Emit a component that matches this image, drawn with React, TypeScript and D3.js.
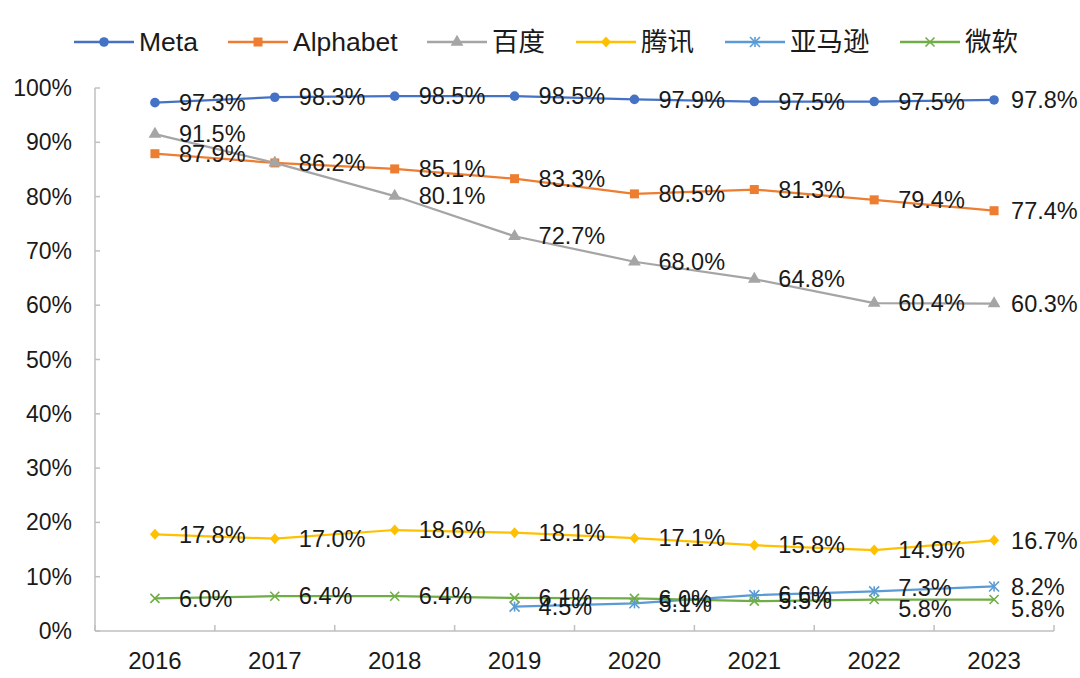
import React from 'react';
import * as d3 from 'd3';

const years = ['2016', '2017', '2018', '2019', '2020', '2021', '2022', '2023'];
const yTicks = [0, 10, 20, 30, 40, 50, 60, 70, 80, 90, 100];

const meta = [97.3, 98.3, 98.5, 98.5, 97.9, 97.5, 97.5, 97.8];
const alphabet = [87.9, 86.2, 85.1, 83.3, 80.5, 81.3, 79.4, 77.4];
const baidu = [91.5, 86.2, 80.1, 72.7, 68.0, 64.8, 60.4, 60.3];
const tencent = [17.8, 17.0, 18.6, 18.1, 17.1, 15.8, 14.9, 16.7];
const amazon: (number | null)[] = [null, null, null, 4.5, 5.1, 6.6, 7.3, 8.2];
const microsoft = [6.0, 6.4, 6.4, 6.1, 6.0, 5.5, 5.8, 5.8];

type Series = { name: string; values: (number | null)[]; color: string; marker: string };

const series: Series[] = [
  { name: 'Meta', values: meta, color: '#4472C4', marker: 'circle' },
  { name: 'Alphabet', values: alphabet, color: '#ED7D31', marker: 'square' },
  { name: '百度', values: baidu, color: '#A5A5A5', marker: 'triangle' },
  { name: '腾讯', values: tencent, color: '#FFC000', marker: 'diamond' },
  { name: '亚马逊', values: amazon, color: '#5B9BD5', marker: 'asterisk' },
  { name: '微软', values: microsoft, color: '#70AD47', marker: 'times' },
];

const W = 1080;
const H = 678;
const left = 95;
const right = 1054;
const top = 88;
const bottom = 631;
const font = 'Arial, "Liberation Sans", "Noto Sans CJK SC", sans-serif';
const axisColor = '#BFBFBF';
const textColor = '#1a1a1a';

const x = d3.scaleBand<string>().domain(years).range([left, right]);
const y = d3.scaleLinear().domain([0, 100]).range([bottom, top]);
const cx = (yr: string) => (x(yr) as number) + x.bandwidth() / 2;

// small manual nudges of some data labels, as in the original (series name -> index -> dy)
const labelNudge: Record<string, Record<number, number>> = {
  亚马逊: { 6: -4 },
  微软: { 6: 9, 7: 9 },
};

const Marker: React.FC<{ type: string; color: string; px: number; py: number }> = ({ type, color, px, py }) => {
  if (type === 'circle') return <circle cx={px} cy={py} r={4.8} fill={color} />;
  if (type === 'square') return <rect x={px - 4.5} y={py - 4.5} width={9} height={9} fill={color} />;
  if (type === 'triangle') {
    const p = d3.symbol().type(d3.symbolTriangle).size(70)();
    return <path d={p as string} transform={`translate(${px},${py})`} fill={color} />;
  }
  if (type === 'diamond') {
    return <path d={`M${px},${py - 5.5}L${px + 5},${py}L${px},${py + 5.5}L${px - 5},${py}Z`} fill={color} />;
  }
  if (type === 'asterisk') {
    const r = 5;
    return (
      <g stroke={color} strokeWidth={1.6}>
        <line x1={px} y1={py - r} x2={px} y2={py + r} />
        <line x1={px - r} y1={py - r} x2={px + r} y2={py + r} />
        <line x1={px - r} y1={py + r} x2={px + r} y2={py - r} />
      </g>
    );
  }
  const r = 4.5;
  return (
    <g stroke={color} strokeWidth={1.6}>
      <line x1={px - r} y1={py - r} x2={px + r} y2={py + r} />
      <line x1={px - r} y1={py + r} x2={px + r} y2={py - r} />
    </g>
  );
};

const legendX = [74, 228, 427, 576, 725, 900];

const App: React.FC = () => {
  const line = d3
    .line<number | null>()
    .defined((d) => d !== null)
    .x((_, i) => cx(years[i]))
    .y((d) => y(d as number));

  return (
    <svg width={W} height={H} style={{ position: 'absolute', left: 0, top: 0, background: '#fff' }} fontFamily={font}>
      {/* legend */}
      {series.map((s, i) => (
        <g key={s.name}>
          <line x1={legendX[i]} x2={legendX[i] + 60} y1={42} y2={42} stroke={s.color} strokeWidth={2.5} />
          <Marker type={s.marker} color={s.color} px={legendX[i] + 30} py={42} />
          <text x={legendX[i] + 65} y={42} dy="0.35em" fontSize={26.5} fill={textColor}>
            {s.name}
          </text>
        </g>
      ))}

      {/* axes */}
      <line x1={left} x2={left} y1={top} y2={bottom} stroke={axisColor} strokeWidth={1.5} />
      <line x1={left} x2={right} y1={bottom} y2={bottom} stroke={axisColor} strokeWidth={1.5} />
      {yTicks.map((t) => (
        <g key={t}>
          <line x1={left} x2={left + 5} y1={y(t)} y2={y(t)} stroke={axisColor} strokeWidth={1.5} />
          <text x={72} y={y(t)} dy="0.35em" textAnchor="end" fontSize={23} fill={textColor}>
            {t}%
          </text>
        </g>
      ))}
      {[...years.map((yr) => x(yr) as number), right].map((bx, i) => (
        <line key={i} x1={bx} x2={bx} y1={bottom} y2={bottom - 6} stroke={axisColor} strokeWidth={1.5} />
      ))}
      {years.map((yr) => (
        <text key={yr} x={cx(yr)} y={661} dy="0.35em" textAnchor="middle" fontSize={24} fill={textColor}>
          {yr}
        </text>
      ))}

      {/* series */}
      {series.map((s) => (
        <g key={s.name}>
          <path d={line(s.values) as string} fill="none" stroke={s.color} strokeWidth={2.25} />
          {s.values.map((v, i) =>
            v === null ? null : <Marker key={i} type={s.marker} color={s.color} px={cx(years[i])} py={y(v)} />
          )}
        </g>
      ))}
      {series.map((s) => (
        <g key={s.name + '-labels'}>
          {s.values.map((v, i) => {
            if (v === null) return null;
            // Baidu's 2017 label sits exactly under Alphabet's one
            if (s.name === '百度' && i === 1) return null;
            const dx = i === years.length - 1 ? 17 : 24;
            const dy = labelNudge[s.name]?.[i] ?? 0;
            return (
              <text key={i} x={cx(years[i]) + dx} y={y(v) + dy} dy="0.35em" fontSize={23.5} fill={textColor}>
                {v.toFixed(1)}%
              </text>
            );
          })}
        </g>
      ))}
    </svg>
  );
};

export default App;
